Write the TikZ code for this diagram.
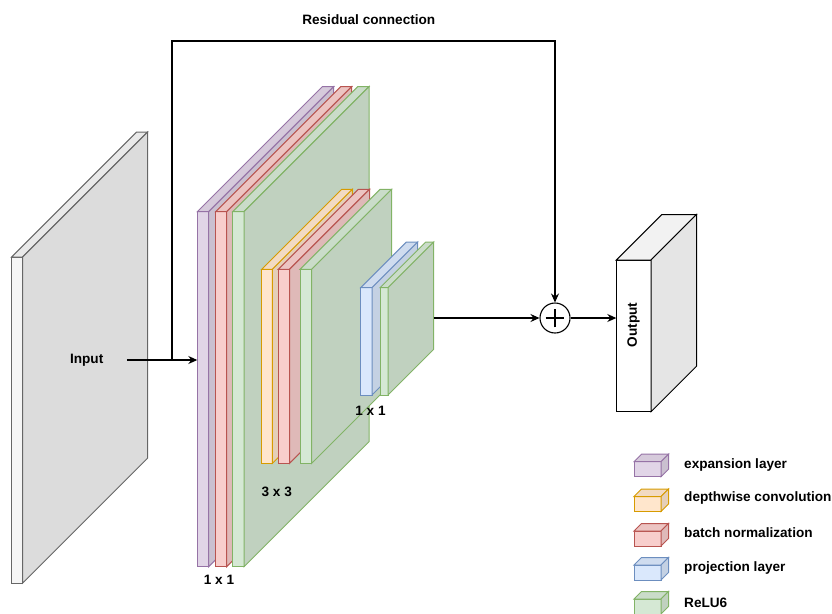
\documentclass[tikz,border=0pt]{standalone}
\usepackage{fontspec}
\setmainfont{Liberation Sans}
\usetikzlibrary{arrows.meta}
\definecolor{gfill}{HTML}{F5F5F5}\definecolor{gline}{HTML}{666666}
\definecolor{pfill}{HTML}{E1D5E7}\definecolor{pline}{HTML}{9673A6}
\definecolor{yfill}{HTML}{FFE6CC}\definecolor{yline}{HTML}{D79B00}
\definecolor{rfill}{HTML}{F8CECC}\definecolor{rline}{HTML}{B85450}
\definecolor{bfill}{HTML}{DAE8FC}\definecolor{bline}{HTML}{6C8EBF}
\definecolor{nfill}{HTML}{D5E8D4}\definecolor{nline}{HTML}{82B366}
\newcommand\blk[8]{% name, x, ytop, w, h, depth, fill, stroke
  \node[blkfront, draw=#8, fill=#7, minimum width=#4pt, minimum height=#5pt] (#1) at (#2,#3) {};
  \filldraw[blkface, draw=#8, fill=#7!95!black] (#1.north west) -- ++(#6,-#6) -- ++(#4,0) -- (#1.north east) -- cycle;
  \filldraw[blkface, draw=#8, fill=#7!90!black] (#1.north east) -- ++(#6,-#6) -- ++(0,#5) -- (#1.south east) -- cycle;
}
\begin{document}
\begin{tikzpicture}[x=1pt,y=-1pt,
  blkfront/.style={rectangle, anchor=north west, inner sep=0pt, outer sep=0pt, line width=1pt},
  blkface/.style={line width=1pt, line join=miter},
  lbl/.style={font=\fontsize{13.6}{16}\selectfont\bfseries, inner sep=0pt},
  arr/.style={line width=1.1pt, -{Stealth[length=9pt,width=8pt,inset=3pt]}},
  ln/.style={line width=1.1pt}]
\useasboundingbox (0,0) rectangle (832,613);
% input
\blk{inp}{11.7}{257}{11}{326}{125}{gfill}{gline}
% expansion group 1x1
\blk{exp}{197.3}{211.7}{11.3}{355}{125}{pfill}{pline}
\blk{bn1}{215.7}{211.7}{11}{355}{125}{rfill}{rline}
\blk{re1}{232.7}{211.7}{11.3}{355}{125}{nfill}{nline}
% depthwise group 3x3
\blk{dw}{261.7}{269.3}{10.7}{194}{80}{yfill}{yline}
\blk{bn2}{278.3}{269.3}{11.3}{194}{80}{rfill}{rline}
\blk{re2}{300}{269.3}{11.7}{194}{80}{nfill}{nline}
% projection group 1x1
\blk{prj}{360.7}{287.7}{11.3}{107.3}{45.7}{bfill}{bline}
\blk{re3}{380}{287.7}{8}{107.3}{45.7}{nfill}{nline}
% output
\blk{out}{616.3}{260}{34.7}{151.7}{45.5}{white}{black}
\node[lbl, rotate=90] (outlbl) at (633.5,325) {Output};
% labels
\node[lbl, minimum width=80pt] (inlbl) at (86.7,360) {Input};
\node[lbl] (l1) at (219,580) {1 x 1};
\node[lbl] (l2) at (276.7,491.7) {3 x 3};
\node[lbl] (l3) at (370.5,410.7) {1 x 1};
\node[lbl] (res) at (368.8,19.3) {Residual connection};
% sum
\node[circle, draw, line width=1.1pt, minimum size=30pt, inner sep=0pt] (sum) at (555,318) {};
\draw[ln] ([xshift=-9.3pt]sum.center) -- ([xshift=9.3pt]sum.center);
\draw[ln] ([yshift=-9.3pt]sum.center) -- ([yshift=9.3pt]sum.center);
% connectors
\coordinate (rj) at (172,360);
\coordinate (rtop) at (172,41);
\coordinate (prjout) at (433.7,318);
\draw[arr] (inlbl.east) -- (inlbl.east -| exp.west);
\draw[arr] (rj) -- (rtop) -| (sum.north);
\draw[arr] (prjout) -- (sum.west);
\draw[arr] (sum.east) -- (sum.east -| out.west);
% legend
\blk{k1}{634}{461.7}{27}{15}{7.5}{pfill}{pline}
\blk{k2}{634}{496.5}{27}{15}{7.5}{yfill}{yline}
\blk{k3}{634}{531}{27}{15}{7.5}{rfill}{rline}
\blk{k4}{634}{565}{27}{15}{7.5}{bfill}{bline}
\blk{k5}{634}{599}{27}{15}{7.5}{nfill}{nline}
\node[lbl, anchor=west] (t1) at (684,465) {expansion layer};
\node[lbl, anchor=west] (t2) at (684,498.3) {depthwise convolution};
\node[lbl, anchor=west] (t3) at (684,532.7) {batch normalization};
\node[lbl, anchor=west] (t4) at (684,568.3) {projection layer};
\node[lbl, anchor=west] (t5) at (684,602.7) {ReLU6};
\end{tikzpicture}
\end{document}
